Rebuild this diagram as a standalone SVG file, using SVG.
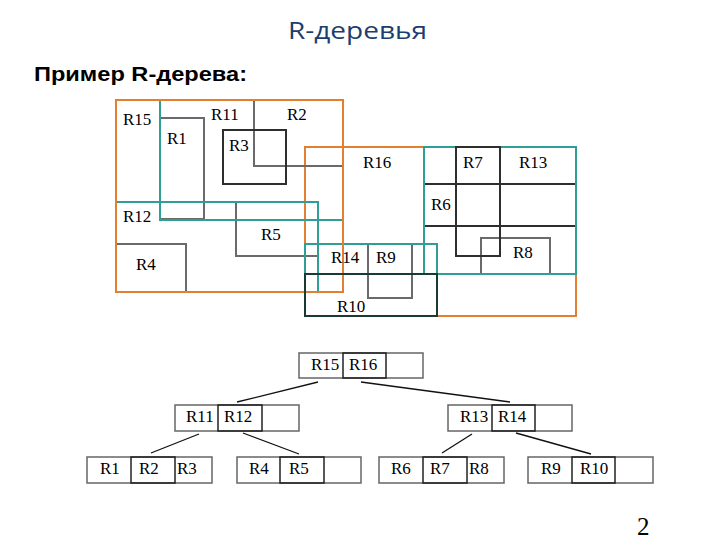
<svg xmlns="http://www.w3.org/2000/svg" width="720" height="540" viewBox="0 0 720 540">
<style>
.or{fill:none;stroke:#e27f30;stroke-width:2}
.te{fill:none;stroke:#2f9e97;stroke-width:2}
.gr{fill:none;stroke:#6a6a6a;stroke-width:2}
.dk{fill:none;stroke:#2e2e2e;stroke-width:2}
.dt{fill:none;stroke:#1b3a35;stroke-width:2}
.lb{font-family:"Liberation Serif","Times New Roman",serif;font-size:17px;fill:#000}
.nb{fill:#fff;stroke:#666;stroke-width:1.5}
.nc{fill:none;stroke:#222;stroke-width:1.5}
.ed{stroke:#111;stroke-width:1.3;fill:none}
</style>
<rect width="720" height="540" fill="#fff"/>
<text x="288" y="39" font-family="'Open Sans','Noto Sans',sans-serif" font-size="24" textLength="139" lengthAdjust="spacingAndGlyphs" fill="#1d3e6c">R-деревья</text>
<text x="34" y="81" font-family="'Liberation Sans',Arial,sans-serif" font-weight="bold" font-size="21" textLength="213" lengthAdjust="spacingAndGlyphs" fill="#000">Пример R-дерева:</text>

<g id="rects">
<rect id="R16" class="or" x="305" y="147" width="271" height="169"/>
<rect id="R1" class="gr" x="160" y="118" width="44" height="101"/>
<rect id="R2" class="gr" x="254" y="100" width="89" height="66"/>
<rect id="R5" class="gr" x="236" y="202" width="82" height="54"/>
<rect id="R4" class="gr" x="116" y="244" width="70" height="48"/>
<rect id="R8" class="gr" x="481" y="238" width="69" height="36"/>
<rect id="R9" class="gr" x="368" y="244" width="44" height="54"/>
<rect id="R6" class="dk" x="424" y="184" width="152" height="42"/>
<rect id="R11" class="te" x="160" y="100" width="183" height="120"/>
<rect id="R12" class="te" x="116" y="202" width="202" height="90"/>
<rect id="R13" class="te" x="424" y="147" width="152" height="127"/>
<rect id="R14" class="te" x="305" y="244" width="132" height="30"/>
<rect id="R3" class="dk" x="223" y="130" width="63" height="54"/>
<rect id="R7" class="dk" x="456" y="147" width="44" height="109"/>
<rect id="R15" class="or" x="116" y="100" width="227" height="192"/>
<rect id="R10" class="dt" x="305" y="274" width="132" height="42"/>
<text class="lb" x="123" y="125">R15</text>
<text class="lb" x="211" y="120">R11</text>
<text class="lb" x="287" y="120">R2</text>
<text class="lb" x="167" y="144">R1</text>
<text class="lb" x="229" y="151">R3</text>
<text class="lb" x="123" y="222">R12</text>
<text class="lb" x="261" y="240">R5</text>
<text class="lb" x="136" y="270">R4</text>
<text class="lb" x="331" y="263">R14</text>
<text class="lb" x="376" y="263">R9</text>
<text class="lb" x="337" y="312">R10</text>
<text class="lb" x="363" y="168">R16</text>
<text class="lb" x="463" y="168">R7</text>
<text class="lb" x="519" y="168">R13</text>
<text class="lb" x="431" y="210">R6</text>
<text class="lb" x="513" y="258">R8</text>
</g>

<g id="connectors">
<line class="ed" x1="318" y1="382" x2="237" y2="402"/>
<line class="ed" x1="361" y1="382" x2="510" y2="402"/>
<line class="ed" x1="199" y1="434" x2="151" y2="453"/>
<line class="ed" x1="243" y1="433" x2="299" y2="454"/>
<line class="ed" x1="472" y1="434" x2="442" y2="453"/>
<line class="ed" x1="516" y1="433" x2="591" y2="454"/>
</g>

<g id="root">
<rect class="nb" x="299" y="353" width="124" height="25"/>
<rect class="nc" x="343" y="353" width="43" height="25"/>
<text class="lb" x="311" y="370">R15</text>
<text class="lb" x="349" y="370">R16</text>
</g>
<g id="n11">
<rect class="nb" x="175" y="405" width="124" height="26"/>
<rect class="nc" x="218" y="405" width="44" height="26"/>
<text class="lb" x="186" y="422">R11</text>
<text class="lb" x="224" y="422">R12</text>
</g>
<g id="n13">
<rect class="nb" x="448" y="405" width="124" height="26"/>
<rect class="nc" x="492" y="405" width="43" height="26"/>
<text class="lb" x="460" y="422">R13</text>
<text class="lb" x="498" y="422">R14</text>
</g>
<g id="leaf1">
<rect class="nb" x="87" y="457" width="125" height="26"/>
<rect class="nc" x="131" y="457" width="44" height="26"/>
<text class="lb" x="100" y="474">R1</text>
<text class="lb" x="139" y="474">R2</text>
<text class="lb" x="177" y="474">R3</text>
</g>
<g id="leaf2">
<rect class="nb" x="237" y="457" width="124" height="26"/>
<rect class="nc" x="280" y="457" width="44" height="26"/>
<text class="lb" x="249" y="474">R4</text>
<text class="lb" x="289" y="474">R5</text>
</g>
<g id="leaf3">
<rect class="nb" x="379" y="457" width="125" height="26"/>
<rect class="nc" x="423" y="457" width="44" height="26"/>
<text class="lb" x="391" y="474">R6</text>
<text class="lb" x="430" y="474">R7</text>
<text class="lb" x="469" y="474">R8</text>
</g>
<g id="leaf4">
<rect class="nb" x="528" y="457" width="125" height="26"/>
<rect class="nc" x="572" y="457" width="43" height="26"/>
<text class="lb" x="541" y="474">R9</text>
<text class="lb" x="580" y="474">R10</text>
</g>
<text x="637" y="535" font-family="'Liberation Serif','Times New Roman',serif" font-size="25" fill="#000">2</text>
</svg>
